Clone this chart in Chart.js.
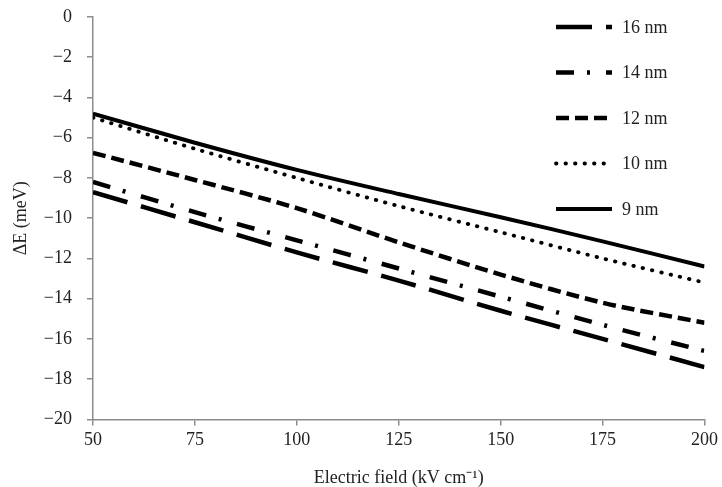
<!DOCTYPE html>
<html>
<head>
<meta charset="utf-8">
<script src="https://cdn.jsdelivr.net/npm/chart.js@4"></script>
<style>
  html, body { margin: 0; padding: 0; background: #fff; }
  #wrap { width: 722px; height: 487px; }
</style>
</head>
<body>
<div id="wrap"><canvas id="fieldChart" width="722" height="487"></canvas></div>
<script>
// Electric field (kV/cm)
const fields = [50, 75, 100, 125, 150, 175, 200];

// Energy shift (meV) per well width
const de16 = [-8.7, -10.2, -11.7, -13.1, -14.6, -16.0, -17.4];
const de14 = [-8.2, -9.7, -11.1, -12.5, -13.9, -15.3, -16.6];
const de12 = [-6.75, -8.1, -9.5, -11.2, -12.8, -14.2, -15.2];
const de10 = [-5.0, -6.55, -8.0, -9.4, -10.7, -12.0, -13.2];
const de9 = [-4.8, -6.25, -7.6, -8.8, -9.95, -11.15, -12.4];

const seriesNames = ["16 nm", "14 nm", "12 nm", "10 nm", "9 nm"];
const xTicks = [50, 75, 100, 125, 150, 175, 200];
const yTicks = [0, -2, -4, -6, -8, -10, -12, -14, -16, -18, -20];

const serif = "'Liberation Serif', 'Times New Roman', serif";
const axisGray = "#8c8c8c";

function toPoints(vals) {
  return fields.map((f, i) => ({ x: f, y: vals[i] }));
}

const minus = s => String(s).replace("-", "\u2212");

// legend drawn inside the plot, top right, like the original
const insideLegend = {
  id: "insideLegend",
  afterDraw(chart) {
    const ctx = chart.ctx;
    const x0 = 556, len = 56;
    let y = 27;
    ctx.save();
    chart.data.datasets.forEach(ds => {
      ctx.beginPath();
      ctx.setLineDash(ds.borderDash || []);
      ctx.lineCap = ds.borderCapStyle || "butt";
      ctx.lineWidth = ds.borderWidth;
      ctx.strokeStyle = ds.borderColor;
      ctx.moveTo(x0, y);
      ctx.lineTo(x0 + len, y);
      ctx.stroke();
      ctx.setLineDash([]);
      ctx.fillStyle = "#222";
      ctx.font = "18px " + serif;
      ctx.textBaseline = "middle";
      ctx.fillText(ds.label, x0 + len + 10, y + 1);
      y += 45.5;
    });
    ctx.restore();
  }
};

const ctx = document.getElementById("fieldChart").getContext("2d");

new Chart(ctx, {
  type: "line",
  data: {
    datasets: [
      { label: seriesNames[0], data: toPoints(de16), borderDash: [36, 14], borderWidth: 4.5 },
      { label: seriesNames[1], data: toPoints(de14), borderDash: [18, 13, 3, 16], borderWidth: 4.5 },
      { label: seriesNames[2], data: toPoints(de12), borderDash: [13, 6], borderWidth: 4.5 },
      { label: seriesNames[3], data: toPoints(de10), borderDash: [0.5, 9], borderCapStyle: "round", borderWidth: 3.8 },
      { label: seriesNames[4], data: toPoints(de9), borderDash: [], borderWidth: 4 }
    ].map(ds => Object.assign({
      borderColor: "#000",
      backgroundColor: "#000",
      pointRadius: 0,
      tension: 0.3,
      fill: false
    }, ds))
  },
  options: {
    responsive: false,
    animation: false,
    layout: { padding: { top: 0, right: 6, left: 10, bottom: 0 } },
    plugins: {
      legend: { display: false },
      tooltip: { enabled: false }
    },
    scales: {
      x: {
        type: "linear",
        min: 50,
        max: 200,
        afterBuildTicks: axis => { axis.ticks = xTicks.map(v => ({ value: v })); },
        grid: { drawOnChartArea: false, drawTicks: true, tickLength: 6, color: axisGray, lineWidth: 1.5 },
        border: { color: axisGray, width: 1.5 },
        ticks: { color: "#222", font: { family: serif, size: 18 }, padding: 4, maxRotation: 0 },
        title: {
          display: true,
          text: "Electric field (kV cm\u207B\u00B9)",
          color: "#222",
          font: { family: serif, size: 18, lineHeight: 1.0 },
          padding: { top: 14, bottom: 0 }
        }
      },
      y: {
        min: -20,
        max: 0,
        afterBuildTicks: axis => { axis.ticks = yTicks.map(v => ({ value: v })); },
        afterFit: axis => {
          axis.width = 83;
          axis.paddingTop = 17;
          axis.paddingBottom = 10;
        },
        grid: { drawOnChartArea: false, drawTicks: true, tickLength: 6, color: axisGray, lineWidth: 1.5 },
        border: { color: axisGray, width: 1.5 },
        ticks: {
          color: "#222",
          font: { family: serif, size: 18 },
          padding: 15,
          callback: v => minus(v)
        },
        title: {
          display: true,
          text: "\u0394E (meV)",
          color: "#222",
          font: { family: serif, size: 18 },
          padding: { top: 0, bottom: 0 }
        }
      }
    }
  },
  plugins: [insideLegend]
});
</script>
</body>
</html>
